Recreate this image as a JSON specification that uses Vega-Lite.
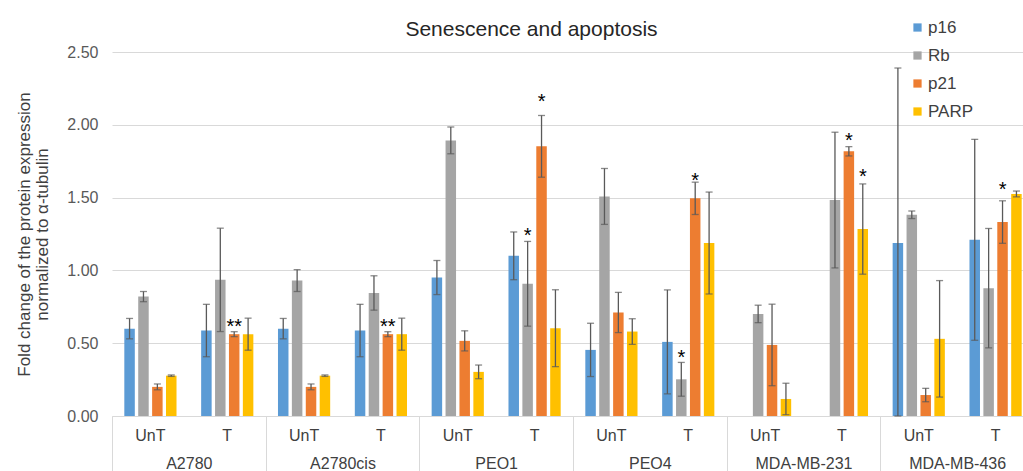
{
  "$schema": "https://vega.github.io/schema/vega-lite/v6.json",
  "width": 911,
  "height": 364,
  "autosize": {"type": "none"},
  "padding": {"left": 112, "top": 52, "right": 0, "bottom": 55},
  "background": "white",
  "config": {
    "font": "Liberation Sans",
    "view": {"stroke": null},
    "axis": {"labelFont": "Liberation Sans", "titleFont": "Liberation Sans"},
    "legend": {"labelFont": "Liberation Sans"}
  },
  "title": {
    "text": "Senescence and apoptosis",
    "font": "Liberation Sans",
    "fontSize": 21,
    "fontWeight": "normal",
    "color": "#262626",
    "anchor": "middle",
    "dx": -36,
    "offset": -38,
    "baseline": "alphabetic"
  },
  "datasets": {
    "bars": [
      {"grp": "A2780|UnT", "protein": "p16", "value": 0.60, "lo": 0.53, "hi": 0.67},
      {"grp": "A2780|UnT", "protein": "Rb", "value": 0.82, "lo": 0.785, "hi": 0.855},
      {"grp": "A2780|UnT", "protein": "p21", "value": 0.20, "lo": 0.18, "hi": 0.22},
      {"grp": "A2780|UnT", "protein": "PARP", "value": 0.277, "lo": 0.272, "hi": 0.282},
      {"grp": "A2780|T", "protein": "p16", "value": 0.587, "lo": 0.407, "hi": 0.767},
      {"grp": "A2780|T", "protein": "Rb", "value": 0.935, "lo": 0.58, "hi": 1.29},
      {"grp": "A2780|T", "protein": "p21", "value": 0.562, "lo": 0.545, "hi": 0.579},
      {"grp": "A2780|T", "protein": "PARP", "value": 0.562, "lo": 0.452, "hi": 0.672},
      {"grp": "A2780cis|UnT", "protein": "p16", "value": 0.60, "lo": 0.53, "hi": 0.67},
      {"grp": "A2780cis|UnT", "protein": "Rb", "value": 0.93, "lo": 0.855, "hi": 1.005},
      {"grp": "A2780cis|UnT", "protein": "p21", "value": 0.20, "lo": 0.18, "hi": 0.22},
      {"grp": "A2780cis|UnT", "protein": "PARP", "value": 0.277, "lo": 0.272, "hi": 0.282},
      {"grp": "A2780cis|T", "protein": "p16", "value": 0.587, "lo": 0.407, "hi": 0.767},
      {"grp": "A2780cis|T", "protein": "Rb", "value": 0.845, "lo": 0.727, "hi": 0.963},
      {"grp": "A2780cis|T", "protein": "p21", "value": 0.562, "lo": 0.545, "hi": 0.579},
      {"grp": "A2780cis|T", "protein": "PARP", "value": 0.562, "lo": 0.452, "hi": 0.672},
      {"grp": "PEO1|UnT", "protein": "p16", "value": 0.951, "lo": 0.834, "hi": 1.068},
      {"grp": "PEO1|UnT", "protein": "Rb", "value": 1.893, "lo": 1.801, "hi": 1.985},
      {"grp": "PEO1|UnT", "protein": "p21", "value": 0.516, "lo": 0.447, "hi": 0.585},
      {"grp": "PEO1|UnT", "protein": "PARP", "value": 0.303, "lo": 0.256, "hi": 0.35},
      {"grp": "PEO1|T", "protein": "p16", "value": 1.10, "lo": 0.936, "hi": 1.264},
      {"grp": "PEO1|T", "protein": "Rb", "value": 0.908, "lo": 0.617, "hi": 1.199},
      {"grp": "PEO1|T", "protein": "p21", "value": 1.852, "lo": 1.64, "hi": 2.064},
      {"grp": "PEO1|T", "protein": "PARP", "value": 0.603, "lo": 0.339, "hi": 0.867},
      {"grp": "PEO4|UnT", "protein": "p16", "value": 0.454, "lo": 0.271, "hi": 0.637},
      {"grp": "PEO4|UnT", "protein": "Rb", "value": 1.508, "lo": 1.316, "hi": 1.70},
      {"grp": "PEO4|UnT", "protein": "p21", "value": 0.711, "lo": 0.573, "hi": 0.849},
      {"grp": "PEO4|UnT", "protein": "PARP", "value": 0.58, "lo": 0.492, "hi": 0.668},
      {"grp": "PEO4|T", "protein": "p16", "value": 0.509, "lo": 0.152, "hi": 0.866},
      {"grp": "PEO4|T", "protein": "Rb", "value": 0.252, "lo": 0.136, "hi": 0.368},
      {"grp": "PEO4|T", "protein": "p21", "value": 1.495, "lo": 1.384, "hi": 1.606},
      {"grp": "PEO4|T", "protein": "PARP", "value": 1.188, "lo": 0.838, "hi": 1.538},
      {"grp": "MDA-MB-231|UnT", "protein": "Rb", "value": 0.701, "lo": 0.641, "hi": 0.761},
      {"grp": "MDA-MB-231|UnT", "protein": "p21", "value": 0.488, "lo": 0.208, "hi": 0.768},
      {"grp": "MDA-MB-231|UnT", "protein": "PARP", "value": 0.117, "lo": 0.009, "hi": 0.225},
      {"grp": "MDA-MB-231|T", "protein": "Rb", "value": 1.483, "lo": 1.017, "hi": 1.949},
      {"grp": "MDA-MB-231|T", "protein": "p21", "value": 1.818, "lo": 1.786, "hi": 1.85},
      {"grp": "MDA-MB-231|T", "protein": "PARP", "value": 1.284, "lo": 0.974, "hi": 1.594},
      {"grp": "MDA-MB-436|UnT", "protein": "p16", "value": 1.188, "lo": 0.0, "hi": 2.39},
      {"grp": "MDA-MB-436|UnT", "protein": "Rb", "value": 1.382, "lo": 1.356, "hi": 1.408},
      {"grp": "MDA-MB-436|UnT", "protein": "p21", "value": 0.144, "lo": 0.098, "hi": 0.19},
      {"grp": "MDA-MB-436|UnT", "protein": "PARP", "value": 0.53, "lo": 0.13, "hi": 0.93},
      {"grp": "MDA-MB-436|T", "protein": "p16", "value": 1.21, "lo": 0.52, "hi": 1.90},
      {"grp": "MDA-MB-436|T", "protein": "Rb", "value": 0.878, "lo": 0.468, "hi": 1.288},
      {"grp": "MDA-MB-436|T", "protein": "p21", "value": 1.332, "lo": 1.186, "hi": 1.478},
      {"grp": "MDA-MB-436|T", "protein": "PARP", "value": 1.525, "lo": 1.505, "hi": 1.545}
    ],
    "stars": [
      {"grp": "A2780|T", "protein": "p21", "y": 0.646, "label": "**"},
      {"grp": "A2780cis|T", "protein": "p21", "y": 0.646, "label": "**"},
      {"grp": "PEO1|T", "protein": "Rb", "y": 1.274, "label": "*"},
      {"grp": "PEO1|T", "protein": "p21", "y": 2.19, "label": "*"},
      {"grp": "PEO4|T", "protein": "Rb", "y": 0.431, "label": "*"},
      {"grp": "PEO4|T", "protein": "p21", "y": 1.646, "label": "*"},
      {"grp": "MDA-MB-231|T", "protein": "p21", "y": 1.926, "label": "*"},
      {"grp": "MDA-MB-231|T", "protein": "PARP", "y": 1.673, "label": "*"},
      {"grp": "MDA-MB-436|T", "protein": "p21", "y": 1.585, "label": "*"}
    ]
  },
  "resolve": {"axis": {"x": "independent"}},
  "layer": [
    {
      "data": {"name": "bars"},
      "mark": {"type": "bar"},
      "encoding": {
        "x": {
          "field": "grp", "type": "nominal",
          "scale": {
            "domain": ["A2780|UnT", "A2780|T", "A2780cis|UnT", "A2780cis|T", "PEO1|UnT", "PEO1|T", "PEO4|UnT", "PEO4|T", "MDA-MB-231|UnT", "MDA-MB-231|T", "MDA-MB-436|UnT", "MDA-MB-436|T"],
            "range": [0, 922],
            "paddingInner": 0, "paddingOuter": 0
          },
          "axis": {
            "orient": "bottom",
            "title": null,
            "labelExpr": "split(datum.label, '|')[1]",
            "labelAngle": 0,
            "labelFontSize": 16,
            "labelColor": "#404040",
            "labelBaseline": "middle",
            "labelPadding": 19,
            "ticks": false,
            "domain": true,
            "domainColor": "#d9d9d9",
            "domainWidth": 1,
            "grid": false
          }
        },
        "xOffset": {
          "field": "protein", "type": "nominal",
          "scale": {"domain": ["p16", "Rb", "p21", "PARP"], "paddingInner": 0.245, "paddingOuter": 0.886}
        },
        "y": {
          "field": "value", "type": "quantitative",
          "scale": {"domain": [0, 2.5], "nice": false},
          "axis": {
            "orient": "left",
            "values": [0, 0.5, 1, 1.5, 2, 2.5],
            "format": ".2f",
            "grid": true,
            "gridColor": "#d9d9d9",
            "gridWidth": 1,
            "domain": false,
            "ticks": false,
            "labelPadding": 14,
            "labelFontSize": 16,
            "labelColor": "#595959",
            "title": ["Fold change of the protein expression", "normalized to α-tubulin"],
            "titleFontSize": 17,
            "titleFontWeight": "normal",
            "titleColor": "#404040",
            "titleLineHeight": 18,
            "titlePadding": 15
          }
        },
        "color": {
          "field": "protein", "type": "nominal",
          "scale": {"domain": ["p16", "Rb", "p21", "PARP"], "range": ["#5B9BD5", "#A5A5A5", "#ED7D31", "#FFC000"]},
          "legend": {
            "orient": "none",
            "legendX": 797,
            "legendY": -33,
            "title": null,
            "padding": 0,
            "symbolType": "square",
            "symbolSize": 68,
            "symbolStrokeWidth": 0,
            "labelFontSize": 17,
            "labelColor": "#404040",
            "labelOffset": 2,
            "rowPadding": 10
          }
        }
      }
    },
    {
      "data": {"name": "bars"},
      "mark": {"type": "rule", "color": "#595959", "strokeWidth": 1.3},
      "encoding": {
        "x": {"field": "grp", "type": "nominal", "axis": null},
        "xOffset": {"field": "protein", "type": "nominal"},
        "y": {"field": "lo", "type": "quantitative"},
        "y2": {"field": "hi"}
      }
    },
    {
      "data": {"name": "bars"},
      "mark": {"type": "tick", "color": "#595959", "thickness": 1.3, "size": 7, "orient": "horizontal"},
      "encoding": {
        "x": {"field": "grp", "type": "nominal", "axis": null},
        "xOffset": {"field": "protein", "type": "nominal"},
        "y": {"field": "hi", "type": "quantitative"}
      }
    },
    {
      "data": {"name": "bars"},
      "mark": {"type": "tick", "color": "#595959", "thickness": 1.3, "size": 7, "orient": "horizontal"},
      "encoding": {
        "x": {"field": "grp", "type": "nominal", "axis": null},
        "xOffset": {"field": "protein", "type": "nominal"},
        "y": {"field": "lo", "type": "quantitative"}
      }
    },
    {
      "data": {"name": "stars"},
      "mark": {"type": "text", "fontSize": 20, "color": "#000000", "baseline": "alphabetic", "dy": 11, "font": "Liberation Sans"},
      "encoding": {
        "x": {
          "field": "grp", "type": "nominal",
          "axis": {
            "orient": "bottom",
            "title": null,
            "labelExpr": "indexof(datum.label, '|UnT') >= 0 ? split(datum.label, '|')[0] : ''",
            "labelAngle": 0,
            "labelOffset": 76.8,
            "labelFontSize": 16,
            "labelColor": "#404040",
            "labelBaseline": "middle",
            "labelPadding": -8.5,
            "ticks": true,
            "tickSize": 56,
            "tickOffset": -38.4,
            "tickColor": "#d9d9d9",
            "tickWidth": 1,
            "tickOpacity": {"condition": {"test": "indexof(datum.value, '|UnT') < 0", "value": 0}, "value": 1},
            "domain": false,
            "grid": false
          }
        },
        "xOffset": {"field": "protein", "type": "nominal"},
        "y": {"field": "y", "type": "quantitative"},
        "text": {"field": "label"}
      }
    }
  ]
}
